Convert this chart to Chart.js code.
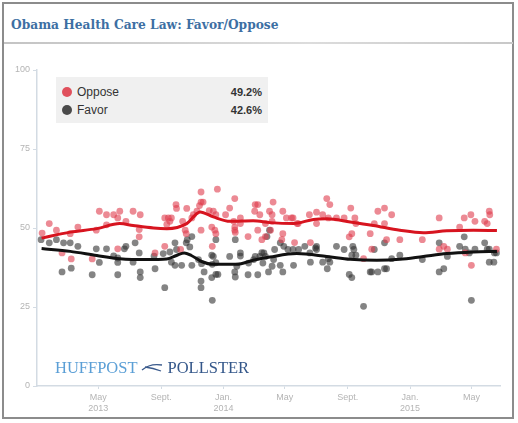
<!DOCTYPE html>
<html>
<head>
<meta charset="utf-8">
<script src="https://cdn.jsdelivr.net/npm/chart.js@4.4.1/dist/chart.umd.min.js"></script>
<style>
body { margin: 0; background: #fff; }
#frame { position: absolute; left: 2px; top: 2px; width: 508px; height: 413px; border: 2px solid #8c8c8c; }
#title { position: absolute; left: 11px; top: 16px; font: bold 13.6px "DejaVu Serif Condensed", "DejaVu Serif", serif; font-stretch: condensed; color: #3d6fa3; }
#rule { position: absolute; left: 4px; top: 42px; width: 509px; height: 2px; background: linear-gradient(to right, #c4c4c4, #dcdcdc 60%, #c8c8c8); }
#chart { position: absolute; left: 0; top: 0; }
#legend { position: absolute; left: 56px; top: 77px; width: 212px; height: 46px; background: #f0f0f0; font: 12px "Liberation Sans", Arial, sans-serif; color: #333; }
.row { position: absolute; left: 6px; right: 6px; height: 16px; line-height: 16px; }
.dot { position: absolute; left: 0; top: 3px; width: 10px; height: 10px; border-radius: 50%; }
.name { position: absolute; left: 15px; }
.val { position: absolute; right: 0; font-weight: bold; font-size: 11px; }
#mark { position: absolute; left: 55px; top: 358px; font: 16.5px "Liberation Serif", serif; white-space: nowrap; }
</style>
</head>
<body>
<div id="frame"></div>
<div id="title">Obama Health Care Law: Favor/Oppose</div>
<div id="rule"></div>
<canvas id="chart" width="518" height="423"></canvas>
<div id="legend">
  <div class="row" style="top:7px"><span class="dot" style="background:#e0505c"></span><span class="name">Oppose</span><span class="val">49.2%</span></div>
  <div class="row" style="top:25px"><span class="dot" style="background:#4a4a4a"></span><span class="name">Favor</span><span class="val">42.6%</span></div>
</div>
<div id="mark"><span style="color:#5b9fd6">HUFFPOST</span> <svg width="22" height="10" viewBox="0 0 22 10" style="vertical-align:1px"><path d="M1 8 Q9 1 21 3 M4 5 Q12 6 20 9" stroke="#3a5a8c" stroke-width="1.3" fill="none"/></svg> <span style="color:#34578a">POLLSTER</span></div>

<script>
// x values are days since 1 Jan 2013
const tickDays = [120, 243, 365, 485, 608, 730, 850];
const tickLabels = [['May', '2013'], ['Sept.', ''], ['Jan.', '2014'], ['May', ''], ['Sept.', ''], ['Jan.', '2015'], ['May', '']];

const opposeDays = [
    10, 24, 38, 49, 65, 67, 80, 108, 116, 122,
    136, 136, 150, 158, 158, 162, 174, 188, 200, 200,
    202, 231, 250, 250, 254, 257, 260, 263, 272, 273,
    281, 285, 290, 292, 293, 303, 306, 313, 318, 321,
    321, 321, 325, 337, 342, 343, 345, 348, 350, 350,
    353, 369, 377, 385, 387, 387, 387, 388, 398, 398,
    413, 426, 427, 432, 432, 436, 440, 447, 447, 455,
    457, 460, 460, 462, 479, 481, 481, 488, 498, 501,
    504, 509, 511, 533, 535, 547, 547, 559, 567, 570,
    573, 586, 601, 611, 614, 616, 622, 624, 639, 652,
    655, 660, 667, 680, 680, 684, 694, 710, 754, 787,
    787, 796, 803, 827, 836, 838, 849, 850, 857, 876,
    881, 885, 886, 899
];
const opposeValues = [
    48.4, 51.4, 49.3, 42.1, 48.2, 40.2, 50.3, 40.2, 49.3, 55.3,
    54.2, 51.0, 54.2, 53.2, 43.4, 55.3, 52.1, 55.3, 49.5, 47.2,
    54.2, 42.1, 53.2, 44.2, 51.1, 53.2, 52.1, 53.2, 57.4, 56.2,
    43.2, 52.1, 49.3, 48.2, 56.2, 53.2, 54.2, 55.3, 57.1, 61.4,
    58.2, 49.3, 58.2, 55.5, 50.3, 44.2, 55.3, 49.3, 54.2, 48.2,
    62.3, 54.2, 56.3, 52.1, 59.3, 50.3, 49.3, 48.6, 53.2, 51.4,
    47.3, 55.3, 57.4, 57.4, 49.3, 54.2, 46.3, 47.3, 51.4, 55.3,
    49.3, 54.2, 52.1, 58.2, 46.3, 55.3, 48.2, 53.2, 53.2, 53.2,
    45.4, 51.4, 51.4, 54.2, 45.4, 55.0, 51.4, 54.2, 59.3, 53.2,
    57.4, 53.2, 53.2, 47.2, 56.3, 48.2, 53.2, 51.4, 40.3, 48.2,
    43.3, 51.4, 55.3, 56.3, 51.4, 46.3, 54.2, 46.3, 46.3, 53.2,
    43.3, 44.2, 43.3, 50.3, 53.2, 42.1, 54.2, 38.2, 52.1, 52.1,
    51.4, 55.3, 54.2, 43.3
];

const favorDays = [
    8, 24, 38, 49, 52, 65, 67, 80, 108, 116,
    122, 136, 150, 158, 158, 158, 171, 174, 188, 192,
    200, 202, 202, 229, 231, 247, 250, 260, 263, 270,
    270, 273, 283, 292, 294, 299, 303, 303, 316, 321,
    321, 322, 327, 342, 342, 343, 343, 345, 350, 350,
    350, 354, 377, 387, 388, 388, 391, 398, 398, 413,
    414, 424, 427, 432, 436, 440, 442, 444, 447, 450,
    453, 455, 460, 463, 465, 476, 476, 481, 483, 491,
    501, 502, 512, 524, 534, 535, 545, 547, 547, 559,
    568, 570, 573, 586, 601, 611, 616, 616, 618, 620,
    624, 639, 652, 655, 660, 667, 680, 680, 684, 694,
    710, 754, 787, 787, 796, 803, 827, 836, 838, 846,
    850, 857, 876, 881, 885, 885, 894, 895, 899
];
const favorValues = [
    46.3, 45.3, 46.3, 36.1, 45.3, 45.3, 37.3, 44.2, 35.2, 43.4,
    39.1, 43.4, 41.2, 39.1, 40.5, 35.2, 43.4, 44.2, 39.2, 45.3,
    42.1, 36.1, 34.3, 41.1, 37.1, 41.9, 31.1, 42.4, 39.2, 38.2,
    45.3, 43.2, 38.2, 45.3, 46.3, 44.0, 47.3, 38.2, 40.0, 33.2,
    31.1, 38.7, 36.1, 41.4, 34.3, 38.5, 27.1, 41.0, 35.3, 46.3,
    39.0, 35.3, 41.0, 36.1, 46.3, 34.5, 37.9, 42.1, 41.1, 35.2,
    38.9, 40.0, 41.0, 35.2, 41.0, 42.2, 38.9, 42.1, 41.0, 47.3,
    36.1, 49.3, 37.9, 40.0, 43.2, 38.2, 45.3, 36.1, 44.2, 43.2,
    43.2, 38.2, 43.2, 44.2, 42.1, 39.2, 43.7, 44.2, 43.2, 39.2,
    37.1, 40.3, 39.2, 44.2, 43.2, 35.3, 34.3, 41.4, 44.2, 43.2,
    41.4, 25.2, 36.1, 36.1, 43.2, 36.1, 45.3, 37.1, 37.1, 40.3,
    41.4, 40.0, 45.3, 36.1, 37.1, 41.0, 44.2, 47.2, 43.3, 42.1,
    27.1, 43.3, 45.3, 43.3, 43.3, 39.2, 39.2, 42.1, 42.1
];

// smoothed trend lines
const opposeTrendDays = [9, 65, 117, 162, 188, 228, 254, 293, 319, 345, 378, 423, 456, 502, 541, 567, 613, 658, 710, 756, 802, 854, 900];
const opposeTrend = [46.8, 48.7, 49.8, 51.4, 50.8, 50.0, 49.8, 51.4, 55.1, 53.5, 52.1, 52.3, 51.7, 51.4, 52.7, 52.9, 51.9, 50.8, 49.3, 48.5, 49.1, 49.3, 49.2];
const favorTrendDays = [9, 65, 117, 162, 215, 254, 273, 288, 302, 322, 345, 391, 423, 456, 508, 567, 613, 665, 710, 756, 802, 854, 900];
const favorTrend = [43.5, 42.6, 41.3, 40.3, 40.0, 40.2, 41.3, 42.1, 41.3, 39.4, 38.5, 38.5, 39.8, 40.8, 41.9, 41.0, 40.1, 39.8, 40.1, 41.0, 41.9, 42.4, 42.6];

function pts(xs, ys) {
    return xs.map((x, i) => ({ x: x, y: ys[i] }));
}

const tickFont = { family: "'Liberation Sans', Arial, sans-serif", size: 9 };
const axisColor = '#d3dbe3';

new Chart(document.getElementById('chart').getContext('2d'), {
    type: 'scatter',
    data: {
        datasets: [
            {
                label: 'Oppose trend',
                type: 'line',
                data: pts(opposeTrendDays, opposeTrend),
                borderColor: '#d7141f',
                borderWidth: 3,
                pointRadius: 0,
                cubicInterpolationMode: 'monotone',
                fill: false,
                order: 0
            },
            {
                label: 'Favor trend',
                type: 'line',
                data: pts(favorTrendDays, favorTrend),
                borderColor: '#111111',
                borderWidth: 3,
                pointRadius: 0,
                cubicInterpolationMode: 'monotone',
                fill: false,
                order: 0
            },
            {
                label: 'Oppose',
                data: pts(opposeDays, opposeValues),
                backgroundColor: 'rgba(224, 60, 76, 0.6)',
                borderWidth: 0,
                pointRadius: 3.4,
                order: 1
            },
            {
                label: 'Favor',
                data: pts(favorDays, favorValues),
                backgroundColor: 'rgba(50, 50, 50, 0.6)',
                borderWidth: 0,
                pointRadius: 3.4,
                order: 1
            }
        ]
    },
    options: {
        responsive: false,
        animation: false,
        layout: {
            padding: { top: 70, right: 18, bottom: 0, left: 0 }
        },
        plugins: {
            legend: { display: false },
            tooltip: { enabled: false }
        },
        scales: {
            x: {
                type: 'linear',
                min: 0,
                max: 906,
                afterBuildTicks: function(scale) {
                    scale.ticks = tickDays.map(v => ({ value: v }));
                },
                afterFit: function(scale) {
                    scale.height = 37;
                },
                grid: {
                    drawOnChartArea: false,
                    drawTicks: true,
                    tickLength: 3,
                    color: axisColor
                },
                border: { color: axisColor, width: 1.5 },
                ticks: {
                    font: tickFont,
                    color: '#b4b4b4',
                    padding: 3,
                    maxRotation: 0,
                    autoSkip: false,
                    callback: function(value) {
                        const i = tickDays.indexOf(value);
                        return i >= 0 ? tickLabels[i] : '';
                    }
                }
            },
            y: {
                min: 0,
                max: 100,
                afterFit: function(scale) {
                    scale.width = 37;
                },
                grid: {
                    drawOnChartArea: false,
                    drawTicks: true,
                    tickLength: 4,
                    color: axisColor
                },
                border: { color: axisColor, width: 1.5 },
                ticks: {
                    stepSize: 25,
                    font: tickFont,
                    color: '#b4b4b4',
                    padding: 3
                }
            }
        }
    }
});
</script>
</body>
</html>
